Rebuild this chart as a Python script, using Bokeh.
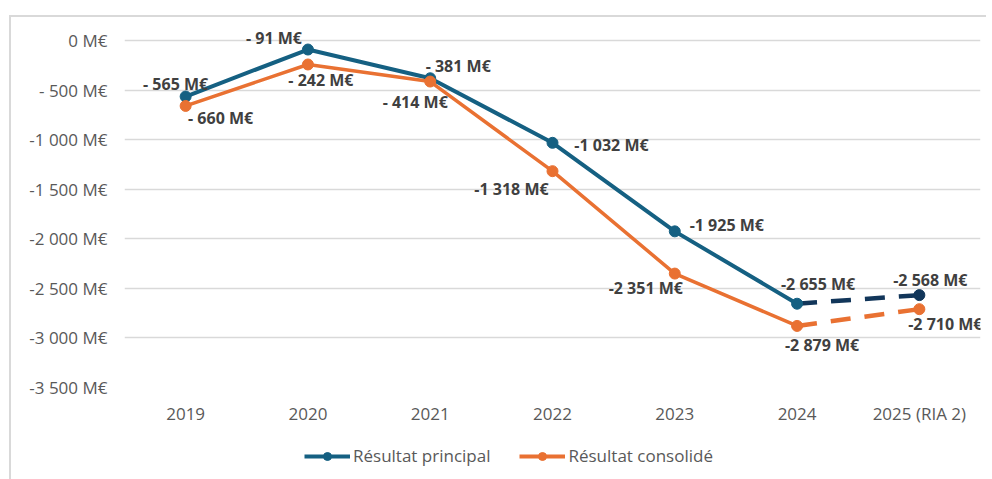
from bokeh.plotting import figure
from bokeh.layouts import column
from bokeh.core.properties import value
from bokeh.models import (ColumnDataSource, FactorRange, Range1d, FixedTicker,
                          LabelSet, Legend, LegendItem)
from bokeh.embed import file_html
from bokeh.resources import INLINE

# ---------------- data ----------------
categories = ["2019", "2020", "2021", "2022", "2023", "2024", "2025 (RIA 2)"]
principal = [-565, -91, -381, -1032, -1925, -2655, -2568]
consolide = [-660, -242, -414, -1318, -2351, -2879, -2710]
y_ticks = [0, -500, -1000, -1500, -2000, -2500, -3000, -3500]
series_names = ["Résultat principal", "Résultat consolidé"]


def fmt(v):
    a = abs(v)
    s = f"{a:,}".replace(",", " ")
    if 0 < a < 1000:
        s = " " + s
    return ("-" if v < 0 else "") + s + " M€"


y_tick_labels = [fmt(t) for t in y_ticks]
principal_labels = [fmt(v) for v in principal]
consolide_labels = [fmt(v) for v in consolide]

# label offsets (pixels, style only)
principal_dx = [-10, -34, 28, 59, 52, 21, 11]
principal_dy = [13, 12, 12, -2, 6, 20, 15]
consolide_dx = [35, 13, -15, -41, -29, 25, 26]
consolide_dy = [-12, -16, -20, -18, -14, -19, -15]

BLUE = "#156082"
NAVY = "#12365a"
ORANGE = "#E97132"
FONT = "Open Sans"

p = figure(width=975, height=423, output_backend="svg", toolbar_location=None,
           x_range=FactorRange(*categories, range_padding=0),
           y_range=Range1d(-3500, 232),
           min_border_left=113, min_border_right=6, min_border_top=0,
           min_border_bottom=53)
p.outline_line_color = None
p.background_fill_color = "white"
p.border_fill_color = "white"

# axes
p.yaxis.ticker = FixedTicker(ticks=y_ticks)
p.yaxis.major_label_overrides = {t: l for t, l in zip(y_ticks, y_tick_labels)}
for ax in (p.xaxis[0], p.yaxis[0]):
    ax.axis_line_color = None
    ax.major_tick_line_color = None
    ax.minor_tick_line_color = None
    ax.major_tick_out = 0
    ax.major_tick_in = 0
    ax.major_label_text_font = FONT
    ax.major_label_text_font_size = "17px"
    ax.major_label_text_color = "#595959"
p.yaxis.major_label_standoff = 17
p.xaxis.major_label_standoff = 14
p.xgrid.grid_line_color = None
p.ygrid.grid_line_color = "#d9d9d9"
p.ygrid.grid_line_width = 1.5
p.ygrid.ticker = FixedTicker(ticks=y_ticks)

n = len(categories)
src_p = ColumnDataSource(dict(x=categories, y=principal, t=principal_labels,
                              dx=principal_dx, dy=principal_dy))
src_c = ColumnDataSource(dict(x=categories, y=consolide, t=consolide_labels,
                              dx=consolide_dx, dy=consolide_dy))

# principal
p.line(categories[:n - 1], principal[:n - 1], line_color=BLUE, line_width=4)
p.line(categories[n - 2:], principal[n - 2:], line_color=NAVY, line_width=4.5,
       line_dash="20 14")
p.scatter(categories[:n - 1], principal[:n - 1], size=11, color=BLUE)
p.scatter(categories[n - 1:], principal[n - 1:], size=11, color=NAVY)

# consolidé
p.line(categories[:n - 1], consolide[:n - 1], line_color=ORANGE, line_width=3.5)
p.line(categories[n - 2:], consolide[n - 2:], line_color=ORANGE, line_width=4.5,
       line_dash="20 14")
p.scatter(categories, consolide, size=11, color=ORANGE)

for src in (src_p, src_c):
    p.add_layout(LabelSet(x="x", y="y", text="t", source=src,
                          x_offset="dx", y_offset="dy",
                          text_align="center", text_baseline="middle",
                          text_font=value(FONT), text_font_size=value("16px"),
                          text_font_style="bold", text_color="#404040"))

# ---------------- legend strip ----------------
pl = figure(width=975, height=39, output_backend="svg", toolbar_location=None,
            x_range=FactorRange(*categories, range_padding=0),
            y_range=Range1d(-3500, 232),
            x_axis_type=None, y_axis_type=None,
            min_border_left=0, min_border_right=0, min_border_top=0,
            min_border_bottom=0)
pl.outline_line_color = None
pl.xgrid.visible = False
pl.ygrid.visible = False
items = []
for name, col, vals in zip(series_names, [BLUE, ORANGE], [principal, consolide]):
    r1 = pl.line(categories, vals, line_color=col, line_width=4, visible=False)
    r2 = pl.scatter(categories, vals, size=11, color=col, visible=False)
    items.append(LegendItem(label=name, renderers=[r1, r2]))
legend = Legend(items=items, orientation="horizontal", location=(180, 12))
legend.glyph_width = 46
legend.label_standoff = 3
legend.spacing = 29
legend.padding = 0
legend.margin = 0
legend.border_line_color = None
legend.background_fill_alpha = 0
legend.inactive_fill_alpha = 0
legend.label_text_font = FONT
legend.label_text_font_size = "17px"
legend.label_text_color = "#595959"
pl.add_layout(legend)

layout = column(p, pl, spacing=0)
layout.margin = (15, 0, 0, 9)
layout.styles = {"border-left": "2px solid #d9d9d9", "border-top": "2px solid #d9d9d9"}

open("out.html", "w").write(file_html(layout, INLINE))
